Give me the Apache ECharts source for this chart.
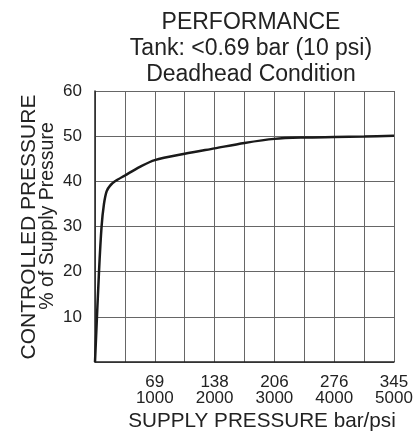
<!DOCTYPE html>
<html>
<head>
<meta charset="utf-8">
<title>Performance</title>
<script src="https://cdn.jsdelivr.net/npm/echarts@6/dist/echarts.min.js"></script>
<style>
  html, body { margin: 0; padding: 0; background: #fff; }
  #chart { width: 417px; height: 435px; }
</style>
</head>
<body>
<div id="chart"></div>
<script>
// Curve (supply pressure psi -> % of supply pressure)
const supplyPsi = [0, 67, 110, 150, 194, 250, 334, 500, 750, 1000, 1500, 2000, 2500, 3000, 3500, 4000, 4500, 5000];
const controlledPct = [0, 20, 30, 35, 37.8, 39, 40, 41.3, 43.2, 44.7, 46.1, 47.3, 48.5, 49.4, 49.7, 49.8, 49.9, 50.1];

// Tick labels under the x axis (bar over psi)
const psiTicks = [1000, 2000, 3000, 4000, 5000];
const barTicks = ['69', '138', '206', '276', '345'];

const FONT = '"Liberation Sans", Arial, Helvetica, sans-serif';

const chart = echarts.init(document.getElementById('chart'), null, { renderer: 'canvas' });

const option = {
    animation: false,
    backgroundColor: '#fff',
    title: {
        text: 'PERFORMANCE\nTank: <0.69 bar (10 psi)\nDeadhead Condition',
        left: 246,
        top: 5,
        textAlign: 'center',
        textStyle: {
            fontFamily: FONT,
            fontSize: 23,
            fontWeight: 'normal',
            color: '#222',
            lineHeight: 26
        }
    },
    grid: {
        left: 95,
        right: 23,
        top: 91,
        bottom: 73,
        containLabel: false
    },
    xAxis: {
        type: 'value',
        min: 0,
        max: 5000,
        interval: 500,
        axisLine: { show: true, lineStyle: { color: '#222', width: 1.5 } },
        axisTick: { show: false },
        splitLine: { show: true, lineStyle: { color: '#666', width: 1 } },
        axisLabel: {
            margin: 12,
            fontFamily: FONT,
            fontSize: 17,
            lineHeight: 16,
            color: '#222',
            showMinLabel: true,
            showMaxLabel: true,
            formatter: function (v) {
                const i = psiTicks.indexOf(v);
                return i < 0 ? '' : barTicks[i] + '\n' + psiTicks[i];
            }
        }
    },
    yAxis: {
        type: 'value',
        min: 0,
        max: 60,
        interval: 10,
        axisLine: { show: true, lineStyle: { color: '#222', width: 1.5 } },
        axisTick: { show: false },
        splitLine: { show: true, lineStyle: { color: '#666', width: 1 } },
        axisLabel: {
            margin: 13,
            fontFamily: FONT,
            fontSize: 17,
            color: '#222',
            formatter: function (v) {
                return v === 0 ? '' : String(v);
            }
        }
    },
    graphic: [
        {
            type: 'text',
            x: 29,
            y: 227,
            rotation: Math.PI / 2,
            style: {
                text: 'CONTROLLED PRESSURE',
                font: '21px ' + FONT,
                fill: '#222',
                textAlign: 'center',
                textVerticalAlign: 'middle'
            }
        },
        {
            type: 'text',
            x: 48,
            y: 216,
            rotation: Math.PI / 2,
            style: {
                text: '% of Supply Pressure',
                font: '19.5px ' + FONT,
                fill: '#222',
                textAlign: 'center',
                textVerticalAlign: 'middle'
            }
        },
        {
            type: 'text',
            x: 262,
            y: 421,
            style: {
                text: 'SUPPLY PRESSURE bar/psi',
                font: '20.7px ' + FONT,
                fill: '#222',
                textAlign: 'center',
                textVerticalAlign: 'middle'
            }
        }
    ],
    series: [{
        type: 'line',
        data: supplyPsi.map((x, i) => [x, controlledPct[i]]),
        smooth: 0.3,
        showSymbol: false,
        lineStyle: { color: '#1a1a1a', width: 2.5 }
    }]
};

chart.setOption(option);
</script>
</body>
</html>
